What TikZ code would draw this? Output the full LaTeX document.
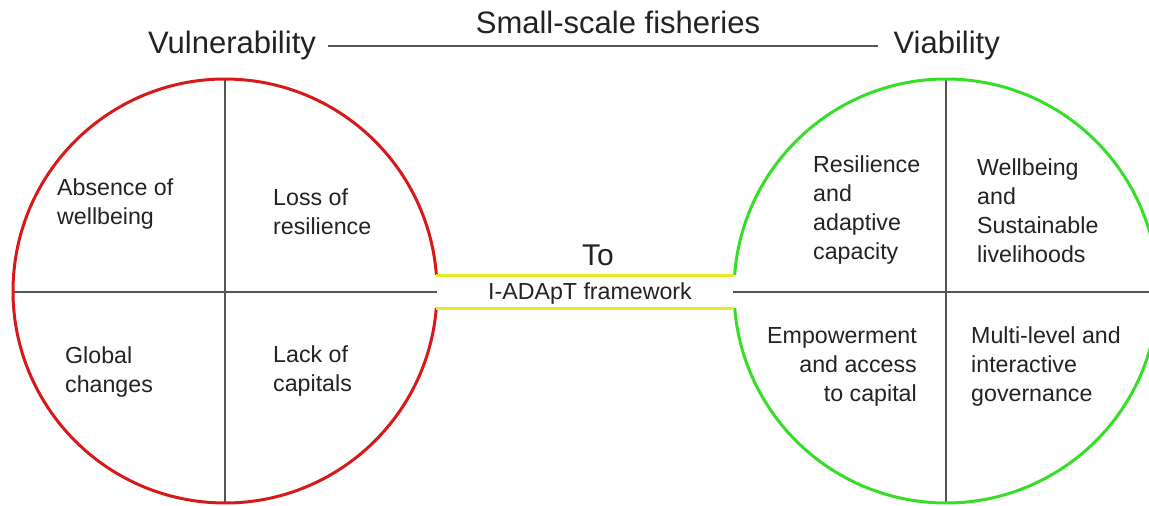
\documentclass[tikz,border=0pt]{standalone}
\usepackage{fontspec}
\setmainfont{Liberation Sans}
\definecolor{inkgray}{RGB}{35,35,35}
\definecolor{rulegray}{RGB}{85,85,85}
\definecolor{vulred}{RGB}{215,25,25}
\definecolor{viagreen}{RGB}{55,222,40}
\definecolor{bridgeyellow}{RGB}{238,232,30}
\tikzset{
  heading/.style={font=\fontsize{31}{35}\selectfont, text=inkgray, inner sep=0pt},
  quadtext/.style={font=\fontsize{23.2}{29}\selectfont, text=inkgray, inner sep=0pt, align=left},
  quadtextr/.style={quadtext, align=right},
  divider/.style={rulegray, line width=1.3pt},
  rim/.style={line width=3pt},
  bridge/.style={bridgeyellow, line width=3pt},
}
\begin{document}
\begin{tikzpicture}[x=1pt,y=-1pt]
\useasboundingbox (0,0) rectangle (1149,506);
\fill[white] (0,0) rectangle (1149,506);

% headings
\node[heading, anchor=base west] (vul) at (148,53) {Vulnerability};
\node[heading, anchor=base east] (via) at (1000,53) {Viability};
\node[heading, anchor=base] (ssf) at (618,34) {Small-scale fisheries};
\coordinate (hl) at (328,46);
\coordinate (hr) at (878,46);
\draw[rulegray, line width=1.8pt] (hl) -- (hr);

% circle centres
\coordinate (L) at (225,291);
\coordinate (R) at (946,291);

% left circle: quadrant dividers and rim with a gap for the bridge
\coordinate (Ltop) at (225,79);
\coordinate (Lbot) at (225,503);
\coordinate (Lw) at (13,292);
\coordinate (Le) at (437,292);
\draw[divider] (Ltop) -- (Lbot);
\draw[divider] (Lw) -- (Le);
\draw[vulred, rim] ([shift={(4.6:212)}]L) arc[start angle=4.6, end angle=355.67, radius=212];

% right circle
\coordinate (Rtop) at (946,79);
\coordinate (Rbot) at (946,503);
\coordinate (Rw) at (733,292);
\coordinate (Re) at (1149,292);
\draw[divider] (Rtop) -- (Rbot);
\draw[divider] (Rw) -- (Re);
\draw[viagreen, rim] ([shift={(184.33:212)}]R) arc[start angle=184.33, end angle=535.4, radius=212];

% bridge between the circles
\coordinate (bu1) at (436.4,275);
\coordinate (bu2) at (734.4,275);
\coordinate (bd1) at (436.3,308);
\coordinate (bd2) at (734.3,308);
\draw[bridge] (bu1) -- (bu2);
\draw[bridge] (bd1) -- (bd2);
\node[font=\fontsize{30}{34}\selectfont, text=inkgray, inner sep=0pt, anchor=base] (to) at (598,265) {To};
\node[font=\fontsize{23.2}{26}\selectfont, text=inkgray, inner sep=0pt, anchor=base] (fw) at (590,299) {I-ADApT framework};

% left quadrants (anchored on the baseline of the last line)
\node[quadtext, anchor=base west] (q1) at (57,224) {Absence of\\wellbeing};
\node[quadtext, anchor=base west] (q2) at (273,234) {Loss of\\resilience};
\node[quadtext, anchor=base west] (q3) at (65,392) {Global\\changes};
\node[quadtext, anchor=base west] (q4) at (273,391) {Lack of\\capitals};

% right quadrants
\node[quadtext, anchor=base west] (r1) at (813,259) {Resilience\\and\\adaptive\\capacity};
\node[quadtext, anchor=base west] (r2) at (977,262) {Wellbeing\\and\\Sustainable\\livelihoods};
\node[quadtextr, anchor=base east] (r3) at (917,401) {Empowerment\\and access\\to capital};
\node[quadtext, anchor=base west] (r4) at (971,401) {Multi-level and\\interactive\\governance};
\end{tikzpicture}
\end{document}
